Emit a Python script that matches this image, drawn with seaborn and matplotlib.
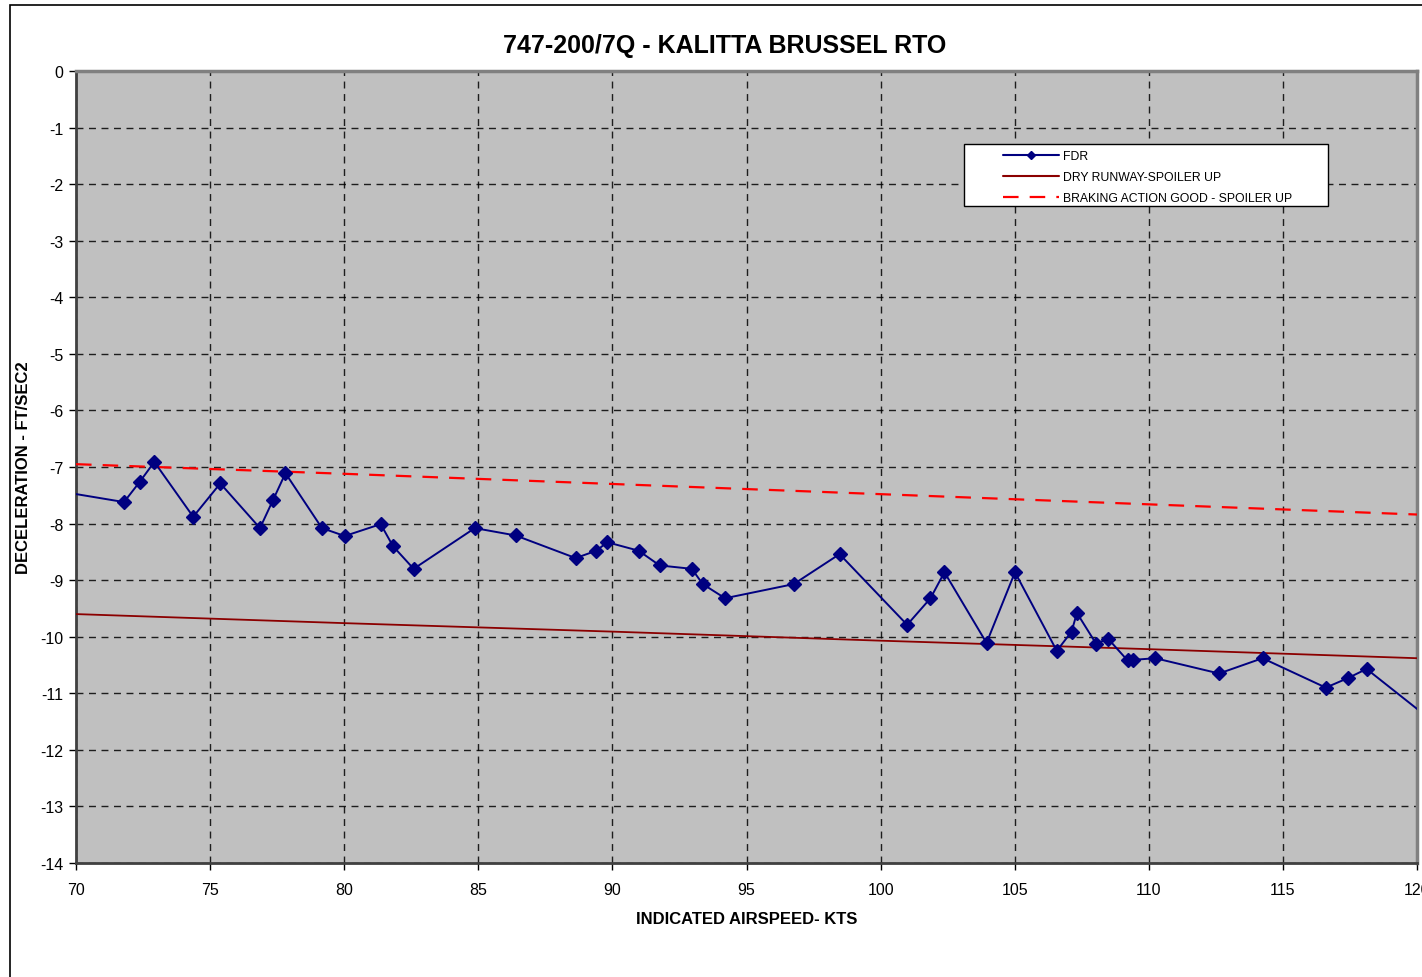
import numpy as np
import pandas as pd
import matplotlib
matplotlib.use("Agg")
import matplotlib.pyplot as plt
import seaborn as sns
from matplotlib.patches import Rectangle
from matplotlib.lines import Line2D

# FDR samples (airspeed kts, deceleration ft/s2); first and last run past the axis
fdr_speed = [68.5, 71.79, 72.38, 72.92, 74.37, 75.38, 76.86, 77.35, 77.81, 79.17,
             80.02, 81.36, 81.82, 82.59, 84.87, 86.39, 88.63, 89.40, 89.81, 90.98,
             91.76, 92.96, 93.37, 94.20, 96.76, 98.47, 100.99, 101.86, 102.38, 103.95,
             105.01, 106.57, 107.12, 107.32, 108.03, 108.49, 109.21, 109.40, 110.24,
             112.62, 114.24, 116.60, 117.43, 118.12, 121.0]
fdr_decel = [-7.36, -7.62, -7.26, -6.91, -7.88, -7.29, -8.08, -7.58, -7.11, -8.08,
             -8.22, -8.01, -8.40, -8.80, -8.08, -8.21, -8.61, -8.48, -8.33, -8.48,
             -8.74, -8.80, -9.07, -9.32, -9.07, -8.54, -9.79, -9.32, -8.86, -10.11,
             -8.86, -10.25, -9.91, -9.58, -10.12, -10.04, -10.42, -10.41, -10.38,
             -10.65, -10.38, -10.90, -10.73, -10.57, -11.65]
# marker only on points inside the chart
fdr_marked = fdr_speed[1:-1]
fdr_marked_decel = fdr_decel[1:-1]

ref_speed = [70, 80, 90, 100, 110, 120]
dry_spoiler_up = [-9.60, -9.76, -9.91, -10.07, -10.22, -10.38]
good_spoiler_up = [-6.95, -7.12, -7.30, -7.48, -7.66, -7.84]

x_ticks = list(range(70, 121, 5))
y_ticks = list(range(0, -15, -1))

sns.set_style("white")
plt.rcParams["font.family"] = ["Liberation Sans", "DejaVu Sans"]
plt.rcParams["axes.unicode_minus"] = False
plt.rcParams["text.color"] = "black"
plt.rcParams["axes.labelcolor"] = "black"

fig = plt.figure(figsize=(14.22, 9.78), dpi=100)
ax = fig.add_axes([76 / 1422, 114 / 978, 1341 / 1422, 792 / 978])
ax.set_facecolor("#c0c0c0")

df_fdr = pd.DataFrame({"speed": fdr_speed, "decel": fdr_decel})
df_ref = pd.DataFrame({"speed": ref_speed, "dry": dry_spoiler_up, "good": good_spoiler_up})

sns.lineplot(data=df_ref, x="speed", y="dry", ax=ax, color="#8b0000", lw=1.3,
             zorder=3)
sns.lineplot(data=df_ref, x="speed", y="good", ax=ax, color="#ff0000", lw=1.6,
             zorder=3)
ax.lines[-1].set_dashes([7, 5])
sns.lineplot(data=df_fdr, x="speed", y="decel", ax=ax, color="#000080", lw=1.4,
             sort=False, zorder=4)
ax.plot(fdr_marked, fdr_marked_decel, ls="none", marker="D", ms=7,
        color="#000080", zorder=5)

ax.set_xlim(70, 120)
ax.set_ylim(-14, 0)
ax.set_xticks(x_ticks)
ax.set_yticks(y_ticks)
ax.grid(True, color="black", ls=(0, (5, 4)), lw=1.0, alpha=0.85)
ax.tick_params(axis="both", direction="out", length=5, width=1, labelsize=11.5,
               colors="black", left=True, bottom=True)
ax.tick_params(axis="x", pad=9)
ax.tick_params(axis="y", pad=4)

for side in ["left", "bottom"]:
    ax.spines[side].set_color("#404040")
    ax.spines[side].set_linewidth(2)
for side in ["top", "right"]:
    ax.spines[side].set_color("#808080")
    ax.spines[side].set_linewidth(2.5)

ax.set_xlabel("INDICATED AIRSPEED- KTS", fontsize=12, fontweight="bold")
ax.set_ylabel("DECELERATION - FT/SEC2", fontsize=12, fontweight="bold")
ax.xaxis.set_label_coords(0.5, -(920 - 864) / 792)
ax.yaxis.set_label_coords(-(76 - 24) / 1341, 0.5)
ax.xaxis.label.set_va("center")
ax.yaxis.label.set_va("center")

fig.text(725 / 1422, 1 - 46 / 978, "747-200/7Q - KALITTA BRUSSEL RTO",
         ha="center", va="center", fontsize=18, fontweight="bold")

# legend box (white, square, black edge)
ax.add_patch(Rectangle((0.662, 0.830), 0.272, 0.078, transform=ax.transAxes,
                       facecolor="white", edgecolor="black", lw=1, zorder=6))
handles = [
    Line2D([0, 1], [0, 0], color="#000080", lw=1.5, marker="D", ms=4),
    Line2D([0, 1], [0, 0], color="#8b0000", lw=1.5),
    Line2D([0, 1], [0, 0], color="#ff0000", lw=1.6, dashes=[7, 5]),
]
labels = ["FDR", "DRY RUNWAY-SPOILER UP", "BRAKING ACTION GOOD - SPOILER UP"]
leg = ax.legend(handles, labels, loc="upper left",
                bbox_to_anchor=(0.6885, 0.905),
                fontsize=8.8, frameon=False, handlelength=4.6, handletextpad=0.3,
                labelspacing=0.75, borderpad=0.3, borderaxespad=0, numpoints=1)
leg.set_zorder(7)

# outer chart frame
fig.patches.append(Rectangle((10 / 1422, -0.05), 1.2, 1.05 - 6 / 978,
                             transform=fig.transFigure, fill=False,
                             edgecolor="black", lw=1.2))

fig.savefig("out.png", dpi=100)
